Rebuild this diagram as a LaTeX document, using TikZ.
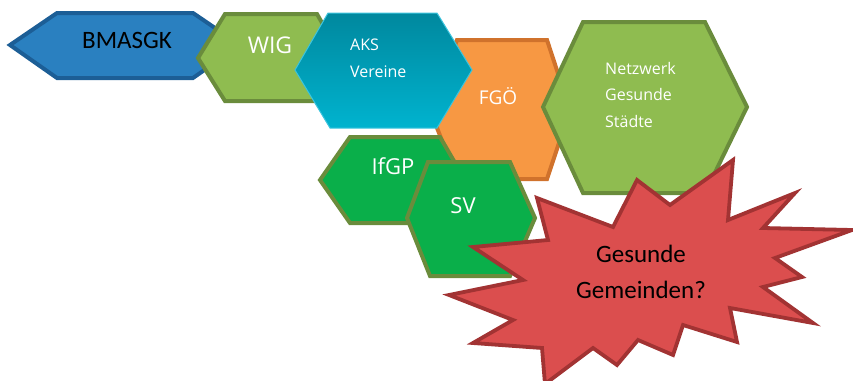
\documentclass[tikz,border=0pt]{standalone}
\usepackage{fontspec}
\setmainfont{Carlito}
\newfontfamily\whitefont{Open Sans}
\definecolor{bmblue}{HTML}{2A80C0}
\definecolor{bmbluedark}{HTML}{1C5E96}
\definecolor{leaf}{HTML}{8FBC50}
\definecolor{leafdark}{HTML}{6A8C3C}
\definecolor{tealtop}{HTML}{00889E}
\definecolor{tealbot}{HTML}{00B3CF}
\definecolor{tealedge}{HTML}{3CC4DE}
\definecolor{orangefill}{HTML}{F79843}
\definecolor{orangedark}{HTML}{D0722C}
\definecolor{greenfill}{HTML}{0AAF4A}
\definecolor{starfill}{HTML}{DB4E4E}
\definecolor{stardark}{HTML}{A23333}
\tikzset{
  hexa/.style={line width=4pt, line join=miter},
  wlabel/.style={text=white, font=\whitefont\fontsize{#1}{#1}\selectfont, inner sep=0pt},
  blabel/.style={text=black, font=\fontsize{25}{25}\selectfont, inner sep=0pt, anchor=base}
}
\begin{document}
\begin{tikzpicture}[x=1pt,y=-1pt]
\useasboundingbox (0,0) rectangle (853,380);
% BMASGK
\draw[hexa, fill=bmblue, draw=bmbluedark] (10,45) -- (57,13) -- (193,13) -- (240,45) -- (193,78) -- (57,78) -- cycle;
\node[blabel] (bmasgk) at (127,48) {BMASGK};
% WIG
\draw[hexa, fill=leaf, draw=leafdark] (198,58) -- (225,14) -- (317,14) -- (342,58) -- (317,101) -- (225,101) -- cycle;
\node[wlabel=23, anchor=base] (wig) at (270,53) {WIG};
% FGOe
\draw[hexa, fill=orangefill, draw=orangedark] (430,110) -- (457,40) -- (547,40) -- (570,110) -- (547,179) -- (457,179) -- cycle;
\node[wlabel=19, anchor=base] (fgo) at (498,104) {FGÖ};
% AKS
\path[draw=tealedge, line width=1pt, top color=tealtop, bottom color=tealbot] (295,70) -- (328,13) -- (437,13) -- (472,70) -- (437,128) -- (330,128) -- cycle;
\node[wlabel=16, anchor=base west] (aks) at (350,50) {AKS};
\node[wlabel=16, anchor=base west] (vereine) at (350,77) {Vereine};
% Netzwerk
\draw[hexa, fill=leaf, draw=leafdark] (543,107) -- (583,22) -- (705,22) -- (747,107) -- (705,193) -- (583,193) -- cycle;
\node[wlabel=16, anchor=base west] (netz1) at (605,74) {Netzwerk};
\node[wlabel=16, anchor=base west] (netz2) at (605,100.5) {Gesunde};
\node[wlabel=16, anchor=base west] (netz3) at (605,127) {Städte};
% IfGP
\draw[hexa, fill=greenfill, draw=leafdark] (320,180) -- (350,137) -- (440,137) -- (465,180) -- (440,223) -- (350,223) -- cycle;
\node[wlabel=22, anchor=base] (ifgp) at (393,174) {IfGP};
% SV
\draw[hexa, fill=greenfill, draw=leafdark] (407,218) -- (428,162) -- (510,162) -- (535,218) -- (510,276) -- (430,276) -- cycle;
\node[wlabel=22, anchor=base] (sv) at (463,213) {SV};
% Star
\draw[line width=3.8pt, fill=starfill, draw=stardark, line join=miter]
  (537,198) -- (613,227) -- (637,180) -- (670,205) -- (733,160) -- (728,220)
  -- (795,193) -- (763,228) -- (852,230) -- (775,258) -- (802,277) -- (763,287)
  -- (813,323) -- (730,308) -- (737,342) -- (683,325) -- (673,355) -- (638,340)
  -- (617,365) -- (593,348) -- (545,384) -- (542,348) -- (473,343) -- (513,320)
  -- (449,295) -- (523,280) -- (473,247) -- (548,240) -- cycle;
\node[blabel] (gesunde) at (641,262) {Gesunde};
\node[blabel] (gemeinden) at (641,298) {Gemeinden?};
\end{tikzpicture}
\end{document}
